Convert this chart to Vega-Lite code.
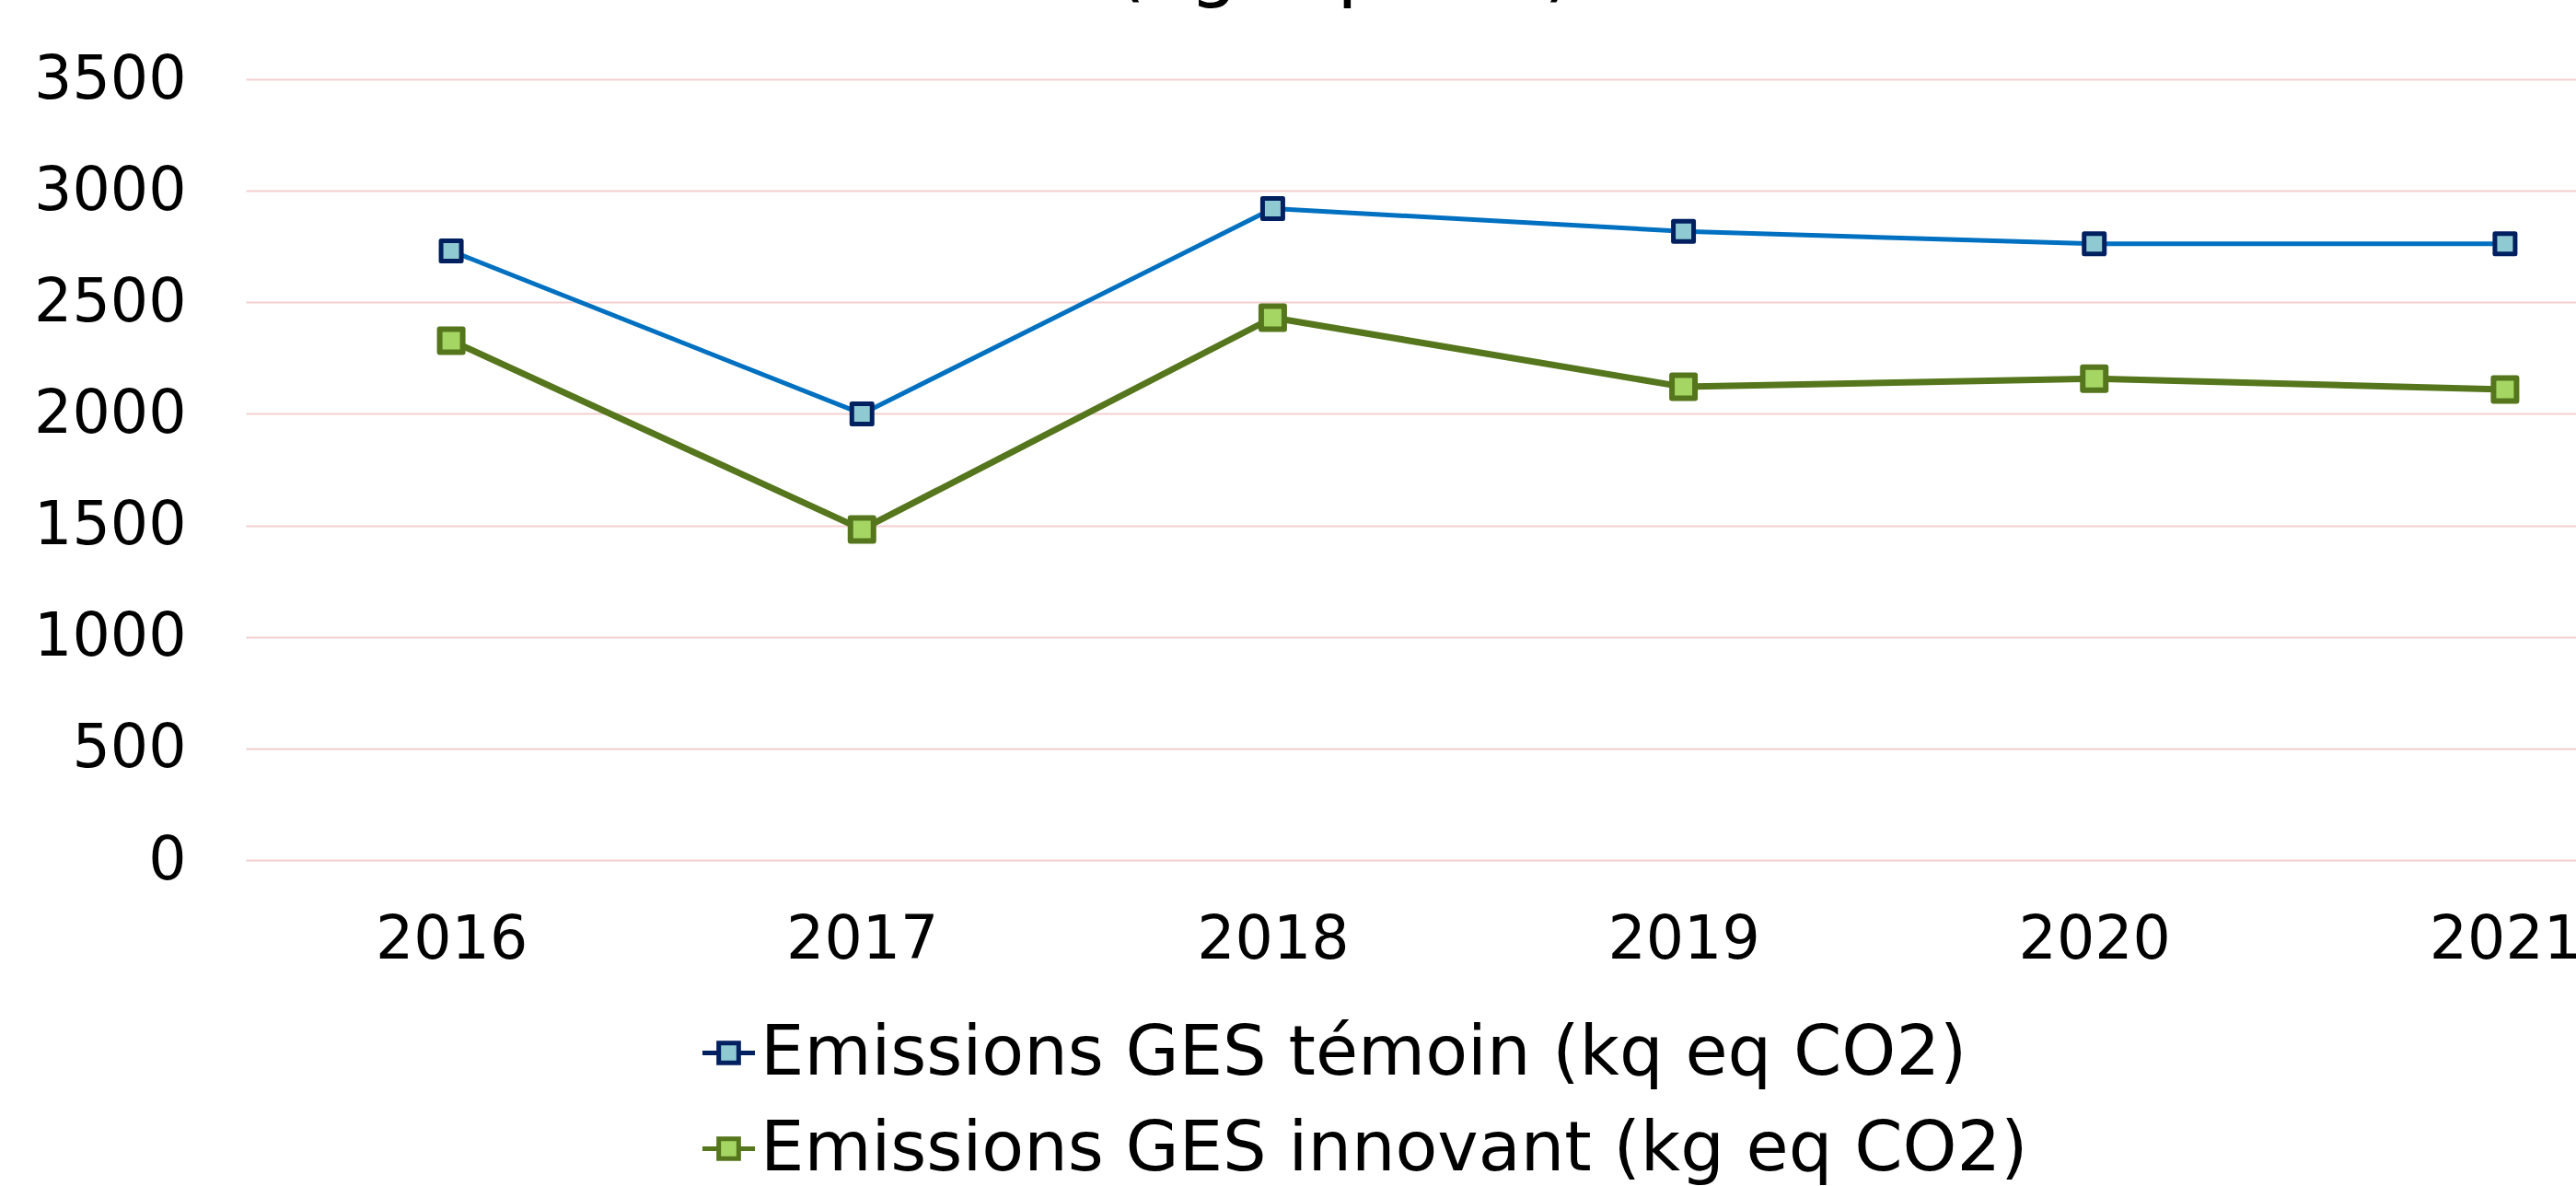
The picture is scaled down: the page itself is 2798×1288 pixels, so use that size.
{
  "$schema": "https://vega.github.io/schema/vega-lite/v6.json",
  "width": 2677,
  "height": 848,
  "autosize": {"type": "none"},
  "padding": {"left": 267, "top": 86, "right": 0, "bottom": 354},
  "background": "white",
  "title": {
    "text": "(kg eq CO2)",
    "font": "DejaVu Sans",
    "fontSize": 83,
    "fontWeight": "normal",
    "color": "black",
    "anchor": "middle",
    "baseline": "alphabetic",
    "offset": -21,
    "dx": -145
  },
  "data": {
    "values": [
      {"year": "2016", "series": "Emissions GES témoin (kq eq CO2)", "value": 2730},
      {"year": "2017", "series": "Emissions GES témoin (kq eq CO2)", "value": 2000},
      {"year": "2018", "series": "Emissions GES témoin (kq eq CO2)", "value": 2920},
      {"year": "2019", "series": "Emissions GES témoin (kq eq CO2)", "value": 2818},
      {"year": "2020", "series": "Emissions GES témoin (kq eq CO2)", "value": 2762},
      {"year": "2021", "series": "Emissions GES témoin (kq eq CO2)", "value": 2762},
      {"year": "2016", "series": "Emissions GES innovant (kg eq CO2)", "value": 2328},
      {"year": "2017", "series": "Emissions GES innovant (kg eq CO2)", "value": 1482},
      {"year": "2018", "series": "Emissions GES innovant (kg eq CO2)", "value": 2431},
      {"year": "2019", "series": "Emissions GES innovant (kg eq CO2)", "value": 2121},
      {"year": "2020", "series": "Emissions GES innovant (kg eq CO2)", "value": 2158},
      {"year": "2021", "series": "Emissions GES innovant (kg eq CO2)", "value": 2109}
    ]
  },
  "encoding": {
    "x": {
      "field": "year",
      "type": "ordinal",
      "scale": {"type": "point", "padding": 0.5},
      "axis": {"title": null, "labelAngle": 0, "labelPadding": 55, "grid": false}
    },
    "y": {
      "field": "value",
      "type": "quantitative",
      "scale": {"domain": [0, 3500], "nice": false, "zero": true},
      "axis": {"title": null, "format": "d", "labelLimit": 500, "values": [0, 500, 1000, 1500, 2000, 2500, 3000, 3500], "labelPadding": 65, "grid": true, "gridColor": "#F3CFCF", "gridWidth": 2}
    }
  },
  "layer": [
    {
      "transform": [{"filter": "datum.series === 'Emissions GES témoin (kq eq CO2)'"}],
      "mark": {"type": "line", "color": "#0070C0", "strokeWidth": 5, "strokeJoin": "round"},
      "encoding": {"strokeWidth": {"value": 5}}
    },
    {
      "transform": [{"filter": "datum.series === 'Emissions GES innovant (kg eq CO2)'"}],
      "mark": {"type": "line", "color": "#55761C", "strokeWidth": 7, "strokeJoin": "round"},
      "encoding": {"strokeWidth": {"value": 7}}
    },
    {
      "transform": [{"filter": "datum.series === 'Emissions GES témoin (kq eq CO2)'"}],
      "mark": {"type": "point", "shape": "square", "filled": true, "size": 484, "strokeWidth": 5, "strokeJoin": "round", "opacity": 1},
      "encoding": {
        "strokeWidth": {"value": 5},
        "fill": {
          "field": "series",
          "type": "nominal",
          "scale": {"domain": ["Emissions GES témoin (kq eq CO2)", "Emissions GES innovant (kg eq CO2)"], "range": ["#8FC9D1", "#A5D664"]},
          "legend": {
            "title": null,
            "orient": "none",
            "legendX": 487,
            "legendY": 1020,
            "direction": "vertical",
            "padding": 0,
            "labelFont": "DejaVu Sans",
            "labelFontSize": 75,
            "labelColor": "black",
            "labelLimit": 3000,
            "labelOffset": -3,
            "rowPadding": 28,
            "symbolSize": 3249,
            "symbolStrokeWidth": 5,
            "symbolType": "M-1,0H-0.38M0.38,0H1M-0.38,-0.38H0.38V0.38H-0.38Z",
            "encode": {
              "symbols": {
                "update": {
                  "shape": {"value": "M-1,0H-0.38M0.38,0H1M-0.38,-0.38H0.38V0.38H-0.38Z"},
                  "stroke": {"scale": "stroke", "field": "value"},
                  "strokeWidth": {"value": 5},
                  "opacity": {"value": 1}
                }
              }
            }
          }
        },
        "stroke": {
          "field": "series",
          "type": "nominal",
          "scale": {"domain": ["Emissions GES témoin (kq eq CO2)", "Emissions GES innovant (kg eq CO2)"], "range": ["#002060", "#55761C"]},
          "legend": null
        }
      }
    },
    {
      "transform": [{"filter": "datum.series === 'Emissions GES innovant (kg eq CO2)'"}],
      "mark": {"type": "point", "shape": "square", "filled": true, "size": 625, "strokeWidth": 6, "strokeJoin": "round", "opacity": 1},
      "encoding": {
        "strokeWidth": {"value": 6},
        "fill": {"field": "series", "type": "nominal"},
        "stroke": {"field": "series", "type": "nominal"}
      }
    }
  ],
  "config": {
    "view": {"stroke": null},
    "axis": {
      "labelFont": "DejaVu Sans",
      "labelFontSize": 65,
      "labelColor": "black",
      "ticks": false,
      "tickSize": 0,
      "domain": false
    }
  }
}
